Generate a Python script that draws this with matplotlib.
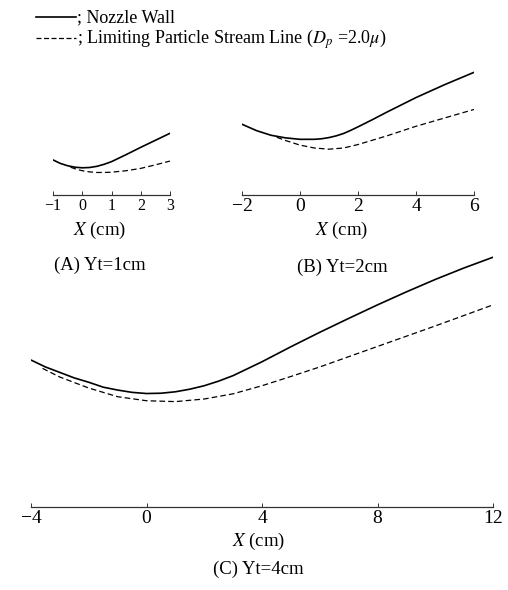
import matplotlib

matplotlib.use("Agg")
import matplotlib.pyplot as plt
from matplotlib.lines import Line2D

plt.rcParams["font.family"] = ["Liberation Serif", "DejaVu Serif"]
plt.rcParams["mathtext.fontset"] = "stix"

# (A) Yt = 1 cm
a_wall_x = [-1.0, -0.75, -0.5, -0.25, 0.0, 0.25, 0.5, 0.75, 1.0, 1.5, 2.0, 2.5, 3.0]
a_wall_y = [1.20, 1.08, 1.00, 0.95, 0.93, 0.94, 0.98, 1.05, 1.14, 1.38, 1.63, 1.87, 2.11]
a_lim_x = [-0.4, -0.2, 0.0, 0.25, 0.5, 0.75, 1.0, 1.5, 2.0, 2.5, 3.0]
a_lim_y = [0.95, 0.88, 0.83, 0.79, 0.77, 0.77, 0.78, 0.83, 0.91, 1.03, 1.16]
a_ticks = [-1, 0, 1, 2, 3]

# (B) Yt = 2 cm
b_wall_x = [-2.0, -1.5, -1.0, -0.5, 0.0, 0.5, 0.75, 1.0, 1.25, 1.5, 1.75, 2.0, 2.5,
            3.0, 4.0, 5.0, 6.0]
b_wall_y = [2.44, 2.22, 2.06, 1.97, 1.92, 1.92, 1.94, 1.98, 2.04, 2.12, 2.23, 2.35, 2.60,
            2.86, 3.36, 3.81, 4.23]
b_lim_x = [-0.8, -0.5, 0.0, 0.5, 1.0, 1.5, 2.0, 3.0, 4.0, 5.0, 6.0]
b_lim_y = [1.99, 1.88, 1.72, 1.62, 1.58, 1.62, 1.74, 2.04, 2.37, 2.66, 2.95]
b_ticks = [-2, 0, 2, 4, 6]

# (C) Yt = 4 cm
c_wall_x = [-4.0, -3.5, -3.0, -2.5, -2.0, -1.5, -1.0, -0.5, 0.0, 0.5, 1.0, 1.5, 2.0,
            2.5, 3.0, 4.0, 5.0, 6.0, 7.0, 8.0, 9.0, 10.0, 11.0, 12.0]
c_wall_y = [5.09, 4.85, 4.66, 4.47, 4.32, 4.15, 4.05, 3.97, 3.93, 3.94, 3.99, 4.08, 4.20,
            4.36, 4.55, 5.03, 5.55, 6.05, 6.53, 7.00, 7.45, 7.88, 8.28, 8.65]
c_lim_x = [-3.6, -3.0, -2.0, -1.0, 0.0, 1.0, 2.0, 3.0, 4.0, 5.0, 6.0, 8.0, 10.0, 12.0]
c_lim_y = [4.80, 4.50, 4.12, 3.82, 3.68, 3.65, 3.74, 3.92, 4.20, 4.52, 4.85, 5.56, 6.27, 7.00]
c_ticks = [-4, 0, 4, 8, 12]

W, H = 508, 590
DASH = (0, (4.5, 2.5))


def px_axes(fig, x0, x1, axis_y, xlim, ymax):
    # axes placed in pixel coords, equal cm scale on x and y
    scale = (x1 - x0) / (xlim[1] - xlim[0])
    h = scale * ymax
    ax = fig.add_axes([x0 / W, (H - axis_y) / H, (x1 - x0) / W, h / H])
    ax.set_xlim(*xlim)
    ax.set_ylim(0, ymax)
    for side in ("top", "left", "right"):
        ax.spines[side].set_visible(False)
    ax.spines["bottom"].set_linewidth(0.9)
    ax.spines["bottom"].set_color("#333333")
    ax.set_yticks([])
    ax.patch.set_alpha(0)
    return ax


def draw_panel(ax, wx, wy, lx, ly, ticks, labelsize):
    ax.plot(wx, wy, color="black", lw=1.2, solid_capstyle="round")
    ax.plot(lx, ly, color="black", lw=0.9, linestyle=DASH)
    ax.set_xticks(ticks)
    ax.set_xticklabels([str(t).replace("-", "\u2212") for t in ticks])
    ax.tick_params(axis="x", direction="in", length=3, width=0.7, pad=2,
                   labelsize=labelsize, color="#333333")


def ftext(x, y, s, size):
    fig.text(x / W, 1 - y / H, s, ha="center", va="center", fontsize=size)


fig = plt.figure(figsize=(W / 100, H / 100), dpi=100)

ax_a = px_axes(fig, 53, 170, 195, (-1, 3), 2.5)
draw_panel(ax_a, a_wall_x, a_wall_y, a_lim_x, a_lim_y, a_ticks, 11.5)

ax_b = px_axes(fig, 242, 474, 195, (-2, 6), 4.6)
draw_panel(ax_b, b_wall_x, b_wall_y, b_lim_x, b_lim_y, b_ticks, 14)

ax_c = px_axes(fig, 31, 493, 507, (-4, 12), 9.0)
draw_panel(ax_c, c_wall_x, c_wall_y, c_lim_x, c_lim_y, c_ticks, 14)

ftext(100, 230, "$X$ (cm)", 13.5)
ftext(100, 265, "(A) Yt=1cm", 13.5)
ftext(342, 230, "$X$ (cm)", 13.5)
ftext(342, 267, "(B) Yt=2cm", 13.5)
ftext(259, 541, "$X$ (cm)", 13.5)
ftext(258, 569, "(C) Yt=4cm", 13.5)

handles = [
    Line2D([], [], color="black", lw=1.2),
    Line2D([], [], color="black", lw=0.9, linestyle=(0, (4, 2))),
]
labels = ["; Nozzle Wall", "; Limiting Particle Stream Line ($D_p$ =2.0$\\mu$)"]
fig.legend(handles, labels, loc="upper left", bbox_to_anchor=(26 / W, 1.0),
           frameon=False, fontsize=13, handlelength=2.2, handletextpad=0.1,
           labelspacing=0.05, borderaxespad=0.15)

fig.savefig("out.png", dpi=100)
